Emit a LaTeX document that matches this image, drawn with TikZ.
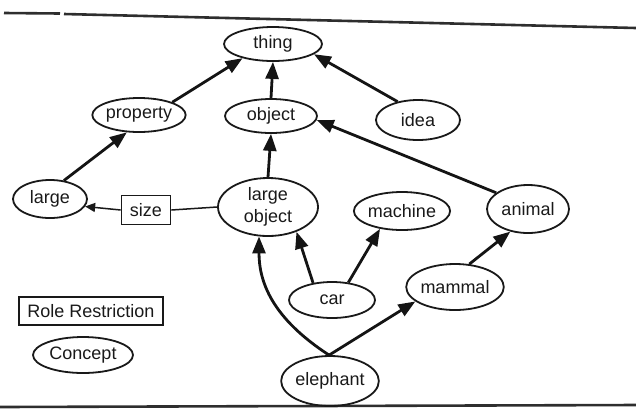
\documentclass[tikz,border=0pt]{standalone}
\usepackage{fontspec}
\setmainfont{Liberation Sans}
\usetikzlibrary{arrows.meta,shapes.geometric}
\begin{document}
\begin{tikzpicture}[x=1bp,y=-1bp,
  every node/.style={font=\fontsize{18bp}{22bp}\selectfont, text=black!90, inner sep=0pt},
  concept/.style={ellipse, draw=black!90, line width=1.8bp},
  restriction/.style={rectangle, draw=black!90, line width=1.7bp},
  isa/.style={line width=2.8bp, draw=black!92, -{Triangle[length=17bp,width=13bp]}},
  roleline/.style={line width=1.5bp, draw=black!90},
  rolearrow/.style={line width=1.5bp, draw=black!90, -{Triangle[length=10bp,width=9bp]}},
  rule/.style={line width=2.6bp, draw=black!82}]
\useasboundingbox (0,0) rectangle (636,413);

% page rules
\draw[rule] (4,13) -- (60,13.5);
\draw[rule] (64,14) -- (636,28);
\draw[rule] (0,407) -- (636,405);

% concepts
\node[concept, minimum width=98bp, minimum height=34bp] (thing) at (273,44) {thing};
\node[concept, minimum width=88bp, minimum height=34bp] (property) at (139,115) {property};
\node[concept, minimum width=92bp, minimum height=34bp] (object) at (271,116) {object};
\node[concept, minimum width=84bp, minimum height=40bp] (idea) at (418,120) {idea};
\node[concept, minimum width=74bp, minimum height=38bp] (large) at (50,199) {large};
\node[concept, minimum width=100bp, minimum height=58bp, align=center] (largeobj) at (268,207) {large\\object};
\node[concept, minimum width=94bp, minimum height=38bp] (machine) at (402,211) {machine};
\node[concept, minimum width=82bp, minimum height=48bp] (animal) at (528,209) {animal};
\node[concept, minimum width=86bp, minimum height=36bp] (car) at (332,300) {car};
\node[concept, minimum width=84bp, minimum height=46bp] (mammal) at (455,287) {mammal};
\node[concept, minimum width=94bp, minimum height=50bp] (elephant) at (330,381) {elephant};

% role restriction
\node[restriction, minimum width=49bp, minimum height=29bp] (size) at (146,210) {size};

% legend
\node[restriction, minimum width=144bp, minimum height=28bp] (legrole) at (91,311) {Role Restriction};
\node[concept, minimum width=100bp, minimum height=36bp] (legconcept) at (83,355) {Concept};

% subsumption links
\draw[isa] (property.21) -- (thing.205);
\draw[isa] (object.90) -- (thing.270);
\draw[isa] (idea.138) -- (thing.346);
\draw[isa] (large.53) -- (property.235);
\draw[isa] (largeobj.90) -- (object.270);
\draw[isa] (animal.153) -- (object.355);
\draw[isa] (car.138) -- (largeobj.319);
\draw[isa] (car.47) -- (machine.219);
\draw[isa] (elephant.92) -- (mammal.200);
\draw[isa] (mammal.58) -- (animal.232);
\draw[isa] (elephant.92) .. controls (272,318) and (259,282) .. (largeobj.253);

% role link
\draw[roleline] (largeobj.west) -- (size.east);
\draw[rolearrow] (size.west) -- (large.-12);
\end{tikzpicture}
\end{document}
